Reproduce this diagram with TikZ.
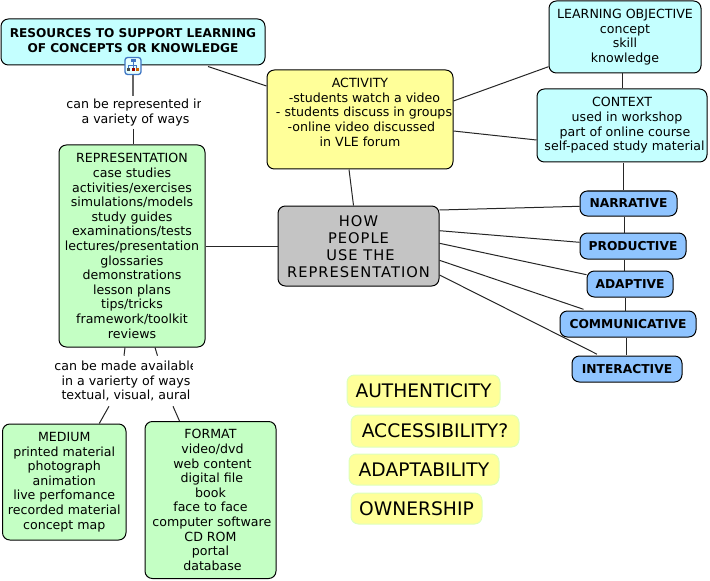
\documentclass[tikz,border=0pt]{standalone}
\usepackage{fontspec}
\setmainfont{DejaVu Sans}
\usetikzlibrary{positioning, calc}
\definecolor{cyanbox}{HTML}{C4FFFF}
\definecolor{greenbox}{HTML}{C4FFC4}
\definecolor{yellowbox}{HTML}{FFFF99}
\definecolor{greybox}{HTML}{C4C4C4}
\definecolor{bluebox}{HTML}{8FC4FF}
\definecolor{noteedge}{HTML}{DDFFBB}
\definecolor{iconblue}{HTML}{3F76C4}
\begin{document}
\begin{tikzpicture}[x=0.75pt,y=-0.75pt]
  \def\px{0.75pt}
  \tikzset{
    sized/.style 2 args={minimum width=#1*\px,minimum height=#2*\px},
    concept/.style={draw=black,line width=0.75pt,rounded corners=5.5pt,align=center,inner sep=0pt,
      font=\fontsize{9.45pt}{10.95pt}\selectfont},
    tag/.style={concept,font=\fontsize{9.2pt}{10.95pt}\selectfont\bfseries,fill=bluebox},
    note/.style={draw=noteedge,line width=0.75pt,rounded corners=5.5pt,fill=yellowbox,inner sep=0pt,
      font=\fontsize{14pt}{16pt}\selectfont},
    linklabel/.style={align=center,fill=white,inner sep=0pt,font=\fontsize{9.45pt}{10.95pt}\selectfont},
    link/.style={line width=0.75pt,black!85}
  }
  \useasboundingbox (0,0) rectangle (710,581);

  \node[concept,sized={264}{46},fill=cyanbox,font=\fontsize{9.1pt}{11.25pt}\selectfont\bfseries] (resources) at (133,42)
    {RESOURCES TO SUPPORT LEARNING\\OF CONCEPTS OR KNOWLEDGE\\[-8.8pt]};
  \node[concept,sized={186}{99},fill=yellowbox] (activity) at (360,119.5)
    {ACTIVITY\\\hspace{6.8pt}-students watch a video\\\hspace{6pt}- students discuss in groups\\\hspace{2.2pt}-online video discussed\\in VLE forum\\~};
  \node[concept,sized={152}{72},fill=cyanbox] (objective) at (625,37)
    {LEARNING OBJECTIVE\\concept\\skill\\knowledge};
  \node[concept,sized={170}{73},fill=cyanbox] (context) at (622,125.5)
    {CONTEXT\\\hspace{7.5pt}used in workshop\\\hspace{4.5pt}part of online course\\\hspace{3.75pt}self-paced study material};
  \node[concept,sized={161}{80},fill=greybox,font={\fontsize{11pt}{12.75pt}\selectfont\addfontfeature{LetterSpace=6.8}}] (how) at (358.5,246)
    {\rule{0pt}{9.5pt}HOW\hspace{5pt}\\PEOPLE\\\hspace{3pt}USE THE\\REPRESENTATION};

  \node[tag,sized={97}{25}] (narrative) at (628.5,203.5) {NARRATIVE};
  \node[tag,sized={106}{26}] (productive) at (633,246) {PRODUCTIVE};
  \node[tag,sized={86}{26}] (adaptive) at (630,284) {ADAPTIVE};
  \node[tag,sized={136}{26}] (communicative) at (628,324) {COMMUNICATIVE};
  \node[tag,sized={110}{26}] (interactive) at (627,369) {INTERACTIVE};

  \node[note,sized={153}{32}] (authenticity) at (423.5,391) {AUTHENTICITY};
  \node[note,sized={168}{32}] (accessibility) at (435,431) {ACCESSIBILITY?};
  \node[note,sized={150}{31}] (adaptability) at (424,469.5) {ADAPTABILITY};
  \node[note,sized={131}{31}] (ownership) at (416.5,508.5) {OWNERSHIP};

  \node[concept,sized={146}{202},fill=greenbox] (representation) at (132,246)
    {REPRESENTATION\\case studies\\activities/exercises\\simulations/models\\study guides\\examinations/tests\\lectures/presentation\\glossaries\\demonstrations\\lesson plans\\tips/tricks\\framework/toolkit\\reviews};
  \node[concept,sized={123.5}{116},fill=greenbox] (medium) at (64.25,482)
    {MEDIUM\\printed material\\photograph\\animation\\live perfomance\\recorded material\\concept map};
  \node[concept,sized={131}{157},fill=greenbox] (format) at (210.5,500)
    {FORMAT\\\hspace{3pt}video/dvd\\\hspace{3pt}web content\\\hspace{2pt}digital file\\book\\face to face\\\hspace{2pt}computer software\\CD ROM\\portal\\\hspace{3pt}database};

  % labels on the links are cut off on the right
  \begin{scope}
    \clip (60,90) rectangle (200,135);
    \node[linklabel,minimum height=32*\px] (waysrep) at (135.5,112.5) {can be represented in\\a variety of ways};
  \end{scope}
  \begin{scope}
    \clip (50,350) rectangle (192,410);
    \node[linklabel,minimum height=50*\px] (waysmade) at (126,381) {can be made available\\in a varierty of ways\\textual, visual, aural};
  \end{scope}

  % icon on the resources box
  \node[draw=iconblue,line width=1pt,fill=cyanbox!40,rounded corners=2pt,sized={16}{17},inner sep=0pt] (icon) at (133,66) {};
  \fill[iconblue] (131,59.5) rectangle (136,62);
  \draw[iconblue,line width=0.5pt] (133.5,62) -- (133.5,68) (128.5,68) -- (128.5,65) -- (136.5,65) -- (136.5,68);
  \fill[black!70] (127,68) rectangle (130,71);
  \fill[red!60!black] (132,68.5) rectangle (134.5,71);
  \fill[orange!80!black] (135.5,68) rectangle (138.5,71);

  \draw[line width=1.2pt,black!60] (icon) -- (icon |- waysrep.north);
  \draw[link] (icon |- waysrep.south) -- (icon |- representation.north);
  \draw[link] ([xshift=-7*\px]representation.south) -- ([xshift=-2*\px]waysmade.north);
  \draw[link] ([xshift=23*\px]representation.south) -- ([xshift=31.5*\px]waysmade.north);
  \draw[link] ([xshift=-17*\px]waysmade.south) -- ([xshift=35*\px]medium.north);
  \draw[link] ([xshift=47*\px]waysmade.south) -- ([xshift=-31*\px]format.north);
  \draw[link] (representation.east) -- (how.west);

  \draw[link] ([xshift=75*\px,yshift=-1*\px]resources.south) -- ([yshift=33.5*\px]activity.west);
  \draw[link] ([yshift=18.5*\px]activity.east) -- ([yshift=-29.7*\px]objective.west);
  \draw[link] ([yshift=-11.5*\px]activity.east) -- ([yshift=-14.5*\px]context.west);
  \draw[link] ([xshift=-11*\px]activity.south) -- ([xshift=-5*\px]how.north);

  \draw[link] (objective.south -| context.north) -- (context.north);
  \draw[link] ([xshift=1.5*\px,yshift=-1*\px]context.south) -- ([xshift=-5*\px]narrative.north);
  \draw[link] ([xshift=-4.5*\px]narrative.south) -- ([xshift=-9*\px]productive.north);
  \draw[link] ([xshift=-8.3*\px]productive.south) -- ([xshift=-5.3*\px]adaptive.north);
  \draw[link] ([xshift=-5*\px]adaptive.south) -- ([xshift=-3*\px]communicative.north);
  \draw[link] ([xshift=-2*\px]communicative.south) -- ([xshift=-1*\px,yshift=1*\px]interactive.north);

  \draw[link] ([yshift=36*\px]how.east) -- ([yshift=-2.8*\px]narrative.west);
  \draw[link] ([yshift=15.3*\px]how.east) -- ([yshift=3.7*\px]productive.west);
  \draw[link] ([yshift=2.7*\px]how.east) -- ([yshift=9.3*\px]adaptive.west);
  \draw[link] ([yshift=-14.3*\px]how.east) -- ([xshift=24*\px,yshift=14.7*\px]communicative.west);
  \draw[link] ([yshift=-29*\px]how.east) -- ([xshift=-30*\px,yshift=1.3*\px]interactive.north);
\end{tikzpicture}
\end{document}
